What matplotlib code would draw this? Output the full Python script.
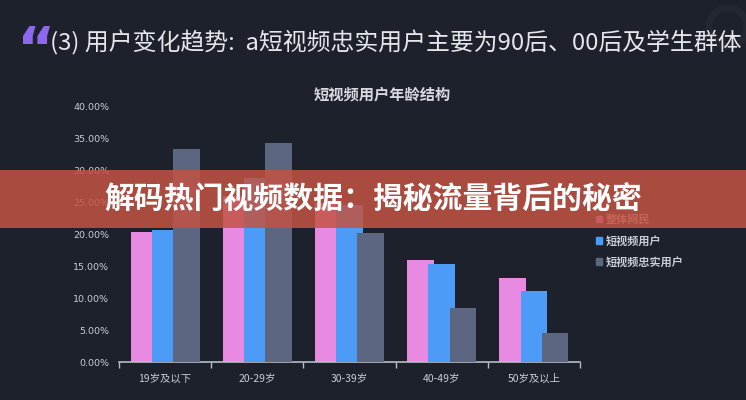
import matplotlib
matplotlib.use("Agg")
import matplotlib.pyplot as plt
from matplotlib.patches import Rectangle, Ellipse, Patch
import numpy as np

plt.rcParams['font.family'] = ['Noto Sans CJK SC', 'DejaVu Sans']

categories = ["19岁及以下", "20-29岁", "30-39岁", "40-49岁", "50岁及以上"]
series_names = ["整体网民", "短视频用户", "短视频忠实用户"]
overall = [20.3, 26.0, 24.8, 15.9, 13.1]
short_video = [20.6, 28.7, 24.6, 15.3, 11.1]
loyal = [33.3, 34.2, 20.1, 8.4, 4.5]
y_ticks = [0, 5, 10, 15, 20, 25, 30, 35, 40]
y_tick_labels = ["0.00%", "5.00%", "10.00%", "15.00%", "20.00%", "25.00%", "30.00%", "35.00%", "40.00%"]

chart_title = "短视频用户年龄结构"
slide_title = "(3) 用户变化趋势:  a短视频忠实用户主要为90后、00后及学生群体"
banner_text = "解码热门视频数据：揭秘流量背后的秘密"

bg = "#1d212b"
colors = ["#e98ae2", "#4b9bf7", "#5d6680"]
txt = "#c9cdd5"

W, H = 746, 400
fig = plt.figure(figsize=(W / 100, H / 100), dpi=100, facecolor=bg)
ax = fig.add_axes([119 / W, 1 - 362 / H, (580 - 119) / W, (362 - 106) / H])
ax.set_facecolor(bg)

x = np.arange(len(categories))
bw = 0.29
off = 0.23
data = [overall, short_video, loyal]
for i, (vals, c) in enumerate(zip(data, colors)):
    ax.bar(x + (i - 1) * off, vals, width=bw, color=c, zorder=2 + i, label=series_names[i])

ax.set_xlim(-0.5, len(categories) - 0.5)
ax.set_ylim(0, 40)
ax.set_yticks(y_ticks)
ax.set_yticklabels(y_tick_labels, fontsize=6.8, color=txt, family=['DejaVu Sans'])
ax.set_xticks(x)
ax.set_xticklabels(categories, fontsize=7.5, color=txt)
ax.set_xticks(np.arange(-0.5, len(categories)), minor=True)
ax.tick_params(axis='x', which='major', length=0, pad=8)
ax.tick_params(axis='x', which='minor', length=4, color="#b8bcc4", width=1)
ax.tick_params(axis='y', length=0, pad=7)
for s in ["top", "right", "left"]:
    ax.spines[s].set_visible(False)
ax.spines["bottom"].set_color("#b8bcc4")
ax.spines["bottom"].set_linewidth(1.2)

leg = ax.legend(handles=[Patch(color=c) for c in colors], labels=series_names,
                loc='upper left', bbox_to_anchor=(596 / W, 1 - 213 / H),
                bbox_transform=fig.transFigure, frameon=False, fontsize=8,
                handlelength=0.55, handleheight=0.55, handletextpad=0.35,
                labelspacing=0.75, borderpad=0, borderaxespad=0)
for t in leg.get_texts():
    t.set_color(txt)
    t.set_fontweight('bold')

# chart title
fig.text(382 / W, 1 - 95 / H, chart_title, ha='center', va='center', fontsize=11,
         color="#d5d8de", fontweight='bold')

# slide title with decorative quote mark
fig.text(17 / W, 1 - 52 / H, "“", ha='left', va='center', fontsize=42,
         color="#8c68ee", fontweight='bold', family=['DejaVu Sans'])
fig.text(50 / W, 1 - 43 / H, slide_title, ha='left', va='center', fontsize=17.2,
         color="#e4e6ea")

# faint decorative ring top right
fig.patches.append(Ellipse((728 / W, 1 - 27 / H), 38 / W, 38 / H, transform=fig.transFigure,
                           fill=False, edgecolor="#232731", linewidth=5, zorder=1))

# banner overlay
fig.patches.append(Rectangle((0, 1 - 228 / H), 1, 58 / H, transform=fig.transFigure,
                             facecolor=(195 / 255, 83 / 255, 67 / 255), alpha=0.85,
                             edgecolor='none', zorder=5))
fig.text(373 / W, 1 - 199 / H, banner_text, ha='center', va='center', fontsize=21.5,
         color='white', fontweight='bold', zorder=6)

fig.savefig("out.png", dpi=100, facecolor=bg)
